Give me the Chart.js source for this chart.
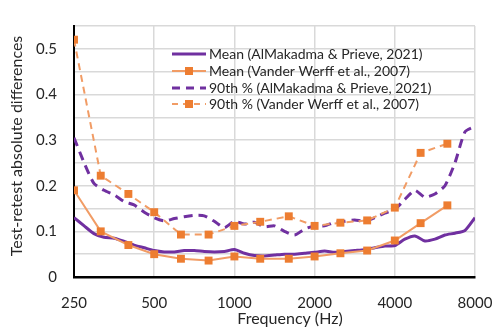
<!DOCTYPE html>
<html>
<head>
<meta charset="utf-8">
<script src="https://cdn.jsdelivr.net/npm/chart.js@4.4.1/dist/chart.umd.min.js"></script>
<style>
  html, body { margin: 0; padding: 0; background: #fff; }
  #wrap { width: 493px; height: 327px; }
</style>
</head>
<body>
<div id="wrap"><canvas id="chartCanvas" width="493" height="327"></canvas></div>
<script>
// x ticks (Hz)
const freqTicks = [250, 500, 1000, 2000, 4000, 8000];

// AlMakadma & Prieve (2021): dense frequency grid
const almFreqs = [250, 273, 297, 324, 354, 386, 420, 459, 500, 545, 595, 648, 707, 771, 841, 917,
  1000, 1091, 1189, 1297, 1414, 1542, 1682, 1834, 2000, 2181, 2378, 2594, 2828, 3084, 3364, 3668,
  4000, 4362, 4757, 5187, 5657, 6169, 6727, 7336, 8000];
const almMean = [0.130, 0.112, 0.095, 0.087, 0.085, 0.078, 0.070, 0.064, 0.058, 0.055, 0.055, 0.058, 0.058, 0.056, 0.055, 0.056,
  0.060, 0.052, 0.047, 0.046, 0.048, 0.050, 0.050, 0.052, 0.054, 0.057, 0.054, 0.056, 0.058, 0.060, 0.064, 0.068,
  0.069, 0.083, 0.090, 0.079, 0.083, 0.092, 0.096, 0.102, 0.130];
const alm90 = [0.305, 0.250, 0.205, 0.190, 0.180, 0.165, 0.158, 0.142, 0.130, 0.123, 0.128, 0.132, 0.135, 0.134, 0.122, 0.108,
  0.122, 0.116, 0.120, 0.110, 0.112, 0.100, 0.092, 0.105, 0.112, 0.112, 0.120, 0.122, 0.125, 0.122, 0.130, 0.140,
  0.148, 0.170, 0.190, 0.175, 0.182, 0.200, 0.250, 0.318, 0.330];

// Vander Werff et al. (2007): 1/3-octave frequencies
const vwFreqs = [250, 315, 400, 500, 630, 800, 1000, 1250, 1600, 2000, 2500, 3150, 4000, 5000, 6300];
const vwMean = [0.19, 0.10, 0.07, 0.05, 0.04, 0.036, 0.045, 0.04, 0.04, 0.045, 0.052, 0.058, 0.08, 0.118, 0.157];
const vw90 = [0.52, 0.222, 0.182, 0.142, 0.093, 0.093, 0.112, 0.121, 0.133, 0.112, 0.119, 0.124, 0.152, 0.272, 0.292];

const seriesLabels = [
  'Mean (AlMakadma & Prieve, 2021)',
  'Mean (Vander Werff et al., 2007)',
  '90th % (AlMakadma & Prieve, 2021)',
  '90th % (Vander Werff et al., 2007)'
];

const purple = '#7030A0';
const orangeLine = '#F19C65';
const orangeMark = '#ED7D31';
const fontFamily = 'Lato, "Open Sans", sans-serif';
const textColor = '#262626';

const toXY = (xs, ys) => xs.map((x, i) => ({ x: x, y: ys[i] }));

// legend + axis titles drawn inside the plot area, Excel style
const extrasPlugin = {
  id: 'extras',
  afterDraw(chart) {
    const ctx = chart.ctx;
    ctx.save();
    ctx.fillStyle = textColor;
    ctx.font = '16px ' + fontFamily;
    ctx.textAlign = 'center';
    ctx.textBaseline = 'middle';
    ctx.fillText('Frequency (Hz)', 290, 319);
    ctx.translate(17, 146);
    ctx.rotate(-Math.PI / 2);
    ctx.fillText('Test-retest absolute differences', 0, 0);
    ctx.restore();

    const rows = [54, 71, 88, 104];
    const styles = [
      { color: purple, width: 3, dash: [], marker: false },
      { color: orangeLine, width: 2, dash: [], marker: true },
      { color: purple, width: 3, dash: [8, 6], marker: false },
      { color: orangeLine, width: 2, dash: [6, 5], marker: true }
    ];
    ctx.save();
    ctx.font = '14px ' + fontFamily;
    ctx.textBaseline = 'middle';
    rows.forEach((y, i) => {
      const s = styles[i];
      ctx.beginPath();
      ctx.setLineDash(s.dash);
      ctx.strokeStyle = s.color;
      ctx.lineWidth = s.width;
      ctx.moveTo(172, y);
      ctx.lineTo(206, y);
      ctx.stroke();
      ctx.setLineDash([]);
      if (s.marker) {
        ctx.fillStyle = orangeMark;
        ctx.fillRect(185, y - 4, 8, 8);
      }
      ctx.fillStyle = textColor;
      ctx.fillText(seriesLabels[i], 209, y);
    });
    ctx.restore();
  }
};

const ctx = document.getElementById('chartCanvas').getContext('2d');
new Chart(ctx, {
  type: 'line',
  data: {
    datasets: [{
      label: seriesLabels[0],
      data: toXY(almFreqs, almMean),
      borderColor: purple,
      borderWidth: 3,
      pointRadius: 0,
      tension: 0.2,
      order: 3
    }, {
      label: seriesLabels[1],
      data: toXY(vwFreqs, vwMean),
      borderColor: orangeLine,
      borderWidth: 2,
      pointStyle: 'rect',
      pointRadius: 5.6,
      pointBackgroundColor: orangeMark,
      pointBorderColor: orangeMark,
      pointBorderWidth: 0,
      tension: 0,
      order: 2
    }, {
      label: seriesLabels[2],
      data: toXY(almFreqs, alm90),
      borderColor: purple,
      borderWidth: 3,
      borderDash: [9, 6],
      pointRadius: 0,
      tension: 0.2,
      order: 1
    }, {
      label: seriesLabels[3],
      data: toXY(vwFreqs, vw90),
      borderColor: orangeLine,
      borderWidth: 2,
      borderDash: [7, 5],
      pointStyle: 'rect',
      pointRadius: 5.6,
      pointBackgroundColor: orangeMark,
      pointBorderColor: orangeMark,
      pointBorderWidth: 0,
      tension: 0,
      order: 0
    }]
  },
  options: {
    responsive: false,
    animation: false,
    layout: { padding: { left: 0, right: 0, top: 14, bottom: 0 } },
    scales: {
      x: {
        type: 'logarithmic',
        min: 250,
        max: 8000,
        afterBuildTicks: (axis) => { axis.ticks = freqTicks.map(v => ({ value: v })); },
        afterFit: (scale) => {
          scale.height = 50;
          scale.paddingRight = 18;
          scale.paddingLeft = 0;
        },
        grid: { color: '#d9d9d9', lineWidth: 1.5, drawTicks: false },
        border: { color: '#000', width: 2.5 },
        ticks: {
          color: textColor,
          font: { family: fontFamily, size: 15 },
          padding: 17,
          maxRotation: 0,
          autoSkip: false,
          callback: (v) => String(v)
        }
      },
      y: {
        min: 0,
        max: 0.55,
        afterFit: (scale) => { scale.width = 74; },
        grid: { color: '#d9d9d9', lineWidth: 1.5, drawTicks: false },
        border: { color: '#000', width: 2 },
        ticks: {
          stepSize: 0.05,
          color: textColor,
          font: { family: fontFamily, size: 15 },
          padding: 17,
          callback: (v) => {
            const r = Math.round(v * 100);
            return r % 10 === 0 ? String(r / 100) : '';
          }
        }
      }
    },
    plugins: {
      legend: { display: false },
      tooltip: { enabled: false }
    }
  },
  plugins: [extrasPlugin]
});
</script>
</body>
</html>
